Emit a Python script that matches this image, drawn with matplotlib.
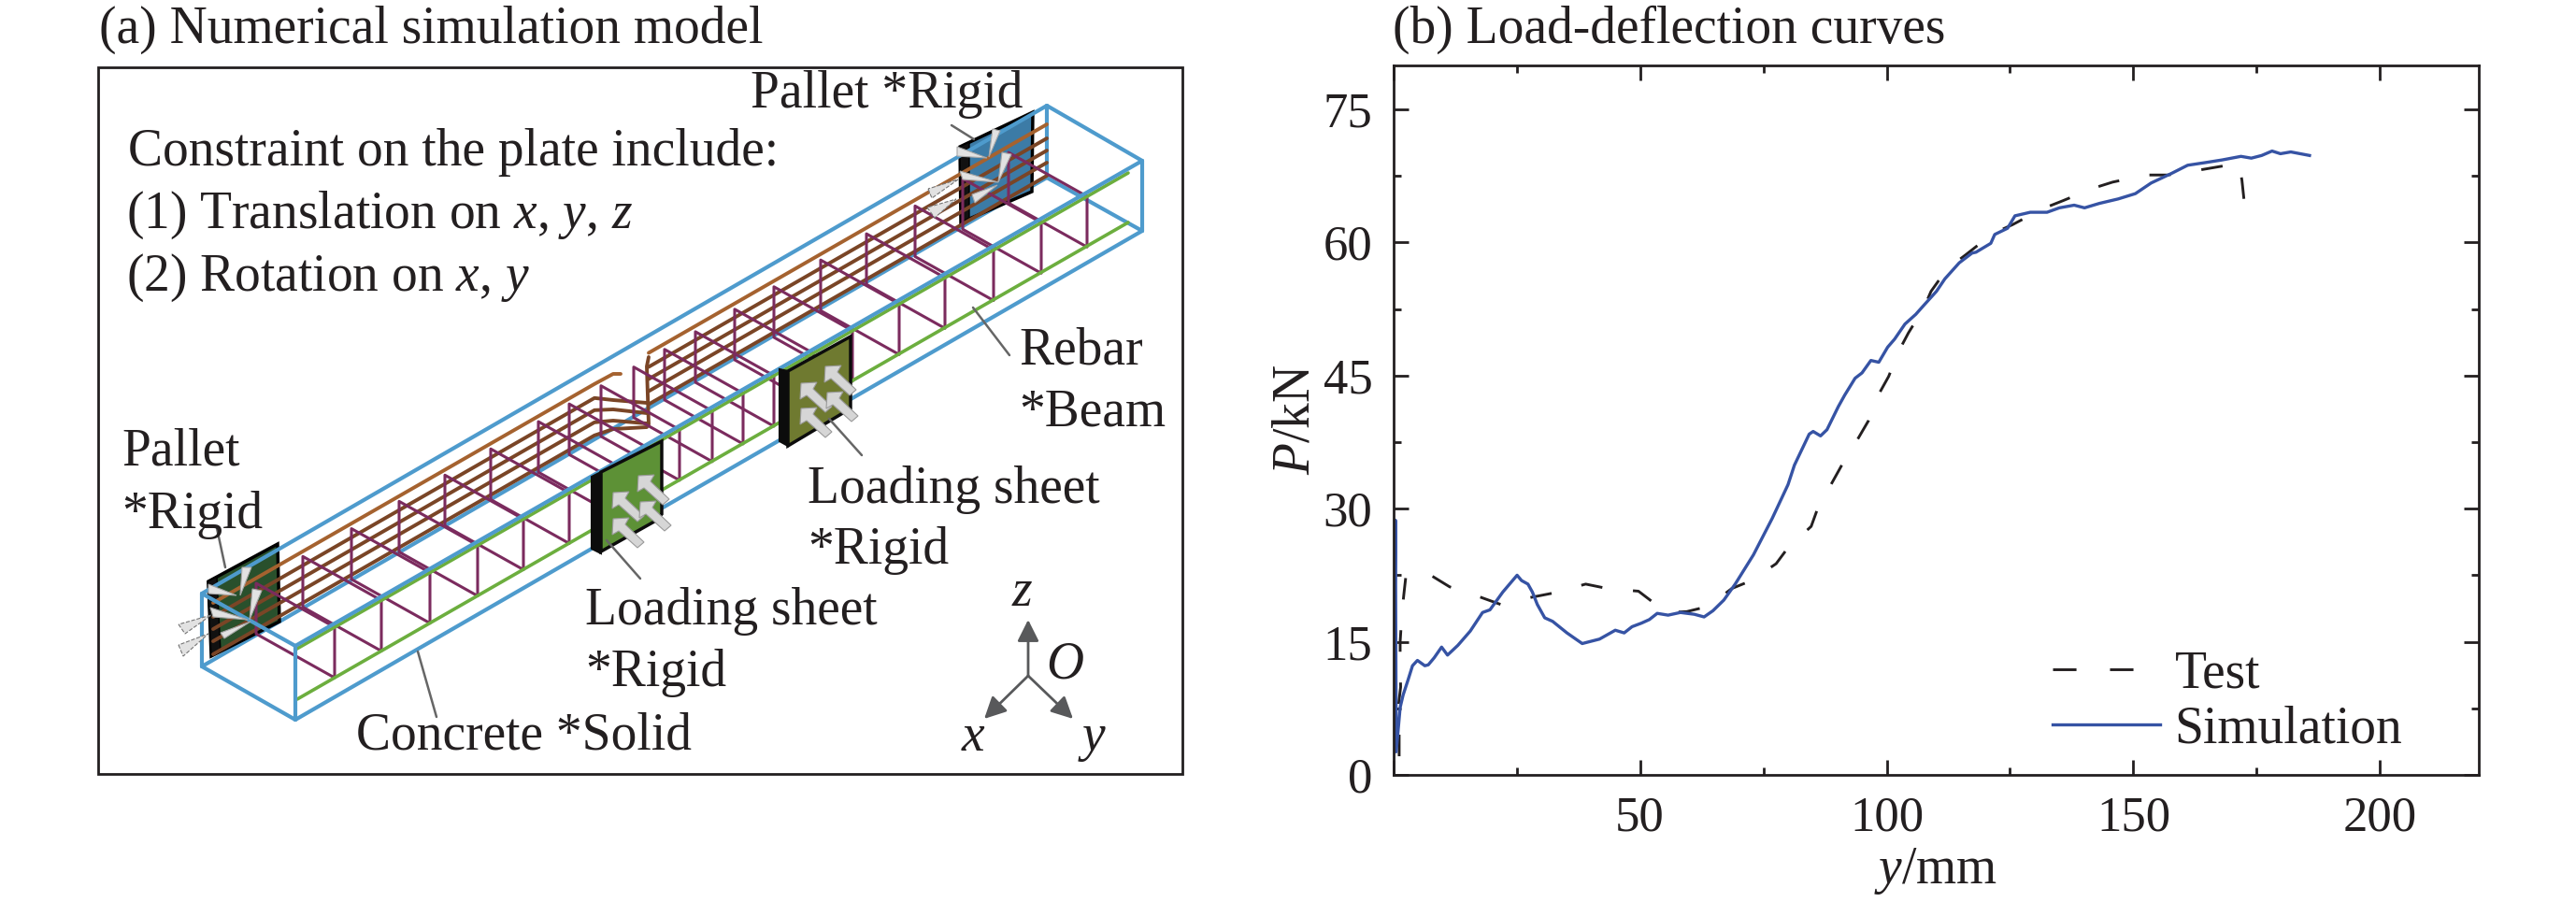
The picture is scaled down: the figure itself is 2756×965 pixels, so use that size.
import matplotlib
matplotlib.use('Agg')
import matplotlib.pyplot as plt
from matplotlib.lines import Line2D
from matplotlib.patches import Polygon, Rectangle

plt.rcParams['font.family'] = ['Liberation Serif']
plt.rcParams['mathtext.fontset'] = 'custom'
plt.rcParams['mathtext.rm'] = 'Liberation Serif'
plt.rcParams['mathtext.it'] = 'Liberation Serif:italic'

INK = '#231f20'
BLUE = '#4e9bcd'
PURPLE = '#7b2b5e'
GREEN = '#6cae3e'
BROWN = '#7a4526'
SIM_BLUE = '#3653a4'

# (b) load-deflection curves
sim_y_mm = [0, 0.44, 0.6, 1.4, 2.0, 3.0, 3.9, 4.9, 6.4, 7.1, 8.3, 9.8, 11, 13.1, 15.6, 18.1, 19.6, 22.2, 25.1,
            26, 27.3, 28.2, 29.2, 30.7, 32.3, 35.2, 37, 38.3, 41.8, 45, 46.8, 48.4, 50.3, 51.9, 53.5, 55.7,
            58.2, 61, 63, 64.8, 67, 69.3, 73, 76.8, 80, 81.3, 84.3, 85.1, 86.6, 87.9, 90.2, 91.5, 93.6, 95.0,
            96.8, 98.4, 100.2, 101.6, 103.7, 105.9, 107.5, 110.1, 111.8, 114.7, 117.3, 118.1, 121.1, 121.9,
            124.5, 126, 129.1, 132.5, 135, 138, 140.1, 143.1, 146.9, 150.4, 153.6, 157.8, 161, 164.6, 168,
            171.8, 173.9, 176, 178.1, 179.8, 181.9, 185.7]
sim_p_kn = [0, 28.7, 2.6, 7.6, 9, 10.7, 12.3, 12.9, 12.3, 12.4, 13.2, 14.4, 13.5, 14.6, 16.2, 18.3, 18.6, 20.6, 22.5,
            21.9, 21.5, 20.6, 19.2, 17.7, 17.3, 16, 15.3, 14.8, 15.3, 16.3, 16, 16.7, 17.1, 17.5, 18.2, 18,
            18.3, 18.1, 17.8, 18.5, 19.7, 21.5, 24.8, 28.9, 32.7, 34.9, 38.4, 38.7, 38.2, 38.9, 41.5, 42.8, 44.7, 45.3,
            46.7, 46.5, 48.2, 49.1, 50.8, 51.9, 52.9, 54.5, 55.9, 57.7, 58.8, 58.9, 59.9, 60.9,
            61.6, 63.0, 63.4, 63.4, 63.9, 64.2, 63.9, 64.4, 64.9, 65.5, 66.7, 67.8, 68.7, 69.0, 69.3,
            69.7, 69.5, 69.8, 70.3, 70.0, 70.2, 69.8]
test_y_mm = [1.2, 1.2, 1.0, 1.5, 1.4, 1.4, 1.8, 2.2, 2.6, 7.3, 11.4, 17.8, 21.8, 24.5, 27.9, 32.5, 39, 43.4, 49.7,
             53, 56, 59.5, 63.9, 68.6, 72.6, 77.6, 80, 84.7, 86, 89.1, 91, 94.2, 96.3, 98.5, 100.4, 102.5, 104.4,
             107.5, 109, 112.2, 116, 121.5, 125.5, 131.6, 135.7, 141.8, 145.8, 152.6, 157, 163.8, 168, 171.4, 172, 172.4]
test_p_kn = [2.1, 4.4, 7.6, 9.9, 13, 15, 18.5, 20.6, 22.6, 22.6, 21.2, 20, 19.2, 19.6, 20, 20.5, 21.5, 21, 20.7,
             19.3, 18.3, 18.4, 19, 21, 21.9, 23.8, 25.6, 28, 30, 33.1, 35, 37.9, 39.9, 43, 44.9, 47.8, 49.8,
             52.6, 54.5, 57, 58.6, 61, 62, 63.8, 64.7, 66.1, 66.8, 67.6, 67.6, 68.2, 68.6, 68.9, 67, 64.9]
x_ticks = [0, 50, 100, 150, 200]
x_tick_labels = ['', '50', '100', '150', '200']
x_minor = [25, 75, 125, 175]
y_ticks = [0, 15, 30, 45, 60, 75]
y_minor = [7.5, 22.5, 37.5, 52.5, 67.5]
series_names = ['Test', 'Simulation']

# (a) model outline, in picture pixels
concrete_back = [[(216, 713), (1120, 190)], [(1120, 190), (1222, 247)], [(1120, 113), (1120, 190)]]
concrete_top_back = [(216, 635), (1120, 113)]
concrete_front = [[(316, 691), (1222, 172)], [(316, 770), (1222, 247)], [(316, 691), (216, 635)], [(216, 635), (216, 713)],
                  [(216, 713), (316, 770)], [(316, 770), (316, 691)], [(1222, 172), (1222, 247)], [(1222, 172), (1120, 113)]]
green_bars = [[(316, 695), (1207, 185)], [(318, 748), (1207, 238)]]
stirrup_x = [358, 408, 460, 511, 560, 609, 660, 693, 727, 762, 795, 828, 870, 912, 962, 1011, 1063, 1114, 1163]
stirrup_back = (-84, -47)
brown_end_y = [133, 148, 161, 174, 188]
brown_flat_y = [(400, 400), (428, 431), (438, 442), (450, 453), (459, 457)]
pallet_near = [(223, 622), (297, 582), (299, 665), (226, 702)]
pallet_near_band = [(222, 622), (232, 617), (236, 697), (226, 702)]
pallet_far = [(1027, 157), (1105, 120), (1104, 205), (1028, 238)]
pallet_far_band = [(1027, 157), (1037, 152), (1037, 233), (1028, 238)]
sheet_one = [(643, 505), (708, 472), (708, 550), (700, 558), (643, 590)]
sheet_one_band = [(633, 510), (643, 505), (643, 592), (633, 587)]
sheet_two = [(843, 397), (910, 360), (910, 437), (843, 477)]
sheet_two_band = [(834, 395), (843, 397), (843, 477), (834, 472)]
sheet_one_tips = [(656, 527), (656, 555), (683, 509), (685, 537)]
sheet_two_tips = [(857, 410), (857, 437), (883, 392), (885, 420)]
arrow_shape = [(0, 0), (17, -1), (13, 6), (33, 25), (26, 31), (6, 13), (-1, 17)]
cones = [[(223, 625), (223, 635), (253, 637)], [(259, 607), (269, 607), (257, 637)], [(270, 630), (280, 632), (267, 663)],
         [(225, 650), (228, 660), (265, 663)], [(236, 677), (240, 683), (268, 665)],
         [(1024, 157), (1024, 167), (1056, 169)], [(1062, 138), (1070, 140), (1058, 168)], [(1072, 163), (1082, 165), (1068, 195)],
         [(1027, 183), (1030, 192), (1068, 195)], [(1040, 208), (1043, 217), (1067, 198)]]
dashed_cones = [[(191, 668), (198, 678), (226, 658)], [(191, 690), (196, 702), (223, 678)],
                [(993, 202), (997, 212), (1025, 192)], [(992, 222), (1000, 233), (1023, 213)]]
leaders = [[(232, 565), (241, 607)], [(1018, 134), (1042, 149)], [(447, 697), (467, 767)],
           [(649, 578), (685, 619)], [(887, 448), (922, 487)], [(1041, 329), (1080, 380)]]
labels = [('(a) Numerical simulation model', 106, 46), ('Pallet *Rigid', 803, 115),
          ('Constraint on the plate include:', 137, 177), ('(1) Translation on $x$, $y$, $z$', 135, 244),
          ('(2) Rotation on $x$, $y$', 135, 311), ('Rebar', 1090, 390), ('*Beam', 1090, 456),
          ('Pallet', 130, 498), ('*Rigid', 130, 565), ('Loading sheet', 864, 538), ('*Rigid', 864, 603),
          ('Loading sheet', 626, 668), ('*Rigid', 626, 734), ('Concrete *Solid', 381, 801),
          ('$z$', 1082, 648), ('$O$', 1119, 726), ('$x$', 1028, 803), ('$y$', 1153, 803),
          ('(b) Load-deflection curves', 1490, 46)]
triad_origin = (1100, 723)
triad_tips = [(1100, 663), (1053, 769), (1148, 769)]


def draw_lines(ax, segments, color, lw, z, **kw):
    for seg in segments:
        ax.plot([p[0] for p in seg], [p[1] for p in seg], color=color, lw=lw, zorder=z,
                solid_capstyle='round', **kw)


fig = plt.figure(figsize=(27.56, 9.65), dpi=100)
sketch = fig.add_axes([0, 0, 1, 1])
sketch.set_xlim(0, 2756)
sketch.set_ylim(965, 0)
sketch.axis('off')

sketch.add_patch(Rectangle((105, 72), 1160, 756, fill=False, ec=INK, lw=2, zorder=1))

draw_lines(sketch, concrete_back, BLUE, 3.0, 1.5)
sketch.add_patch(Polygon(pallet_near, fc='#29502c', ec='black', lw=2.5, zorder=2))
sketch.add_patch(Polygon(pallet_near_band, fc='#111111', ec='black', lw=1, zorder=2))
sketch.add_patch(Polygon(pallet_far, fc='#3c7ba6', ec='black', lw=2.5, zorder=2))
sketch.add_patch(Polygon(pallet_far_band, fc='#111111', ec='black', lw=1, zorder=2))
draw_lines(sketch, [concrete_top_back], BLUE, 3.0, 3)

# main bars, bent up in the middle of the span
slope = 0.574
for i, end_y in enumerate(brown_end_y):
    c = '#a5622f' if i == 0 else BROWN
    at = lambda x: end_y + (1120 - x) * slope
    left = [(228, at(228)), (636, at(636)), (656, brown_flat_y[i][0])]
    if i == 0:
        left.append((664, brown_flat_y[i][0]))
    else:
        left.append((692, brown_flat_y[i][1]))
    draw_lines(sketch, [left, [(694, at(694)), (1120, end_y)]], c, 2.8, 4)
draw_lines(sketch, [[(694, 382), (692, 392), (694, 454)]], BROWN, 2.8, 4)

for x in stirrup_x:
    top = 695 - (x - 316) * 0.5725
    bottom = 748 - (x - 318) * 0.5725
    dx, dy = stirrup_back
    ring = [(x, top), (x, bottom), (x + dx, bottom + dy), (x + dx, top + dy), (x, top)]
    draw_lines(sketch, [ring], PURPLE, 2.2, 5)

draw_lines(sketch, green_bars, GREEN, 2.6, 6)
draw_lines(sketch, concrete_front, BLUE, 3.0, 7)

for face, band, col in [(sheet_one, sheet_one_band, '#5d9136'), (sheet_two, sheet_two_band, '#6f7a30')]:
    sketch.add_patch(Polygon(face, fc=col, ec='#0c0c0c', lw=2.5, zorder=8))
    sketch.add_patch(Polygon(band, fc='#0c0c0c', ec='#0c0c0c', lw=1.5, zorder=8))
for tip in sheet_one_tips + sheet_two_tips:
    outline = [(tip[0] + dx, tip[1] + dy) for dx, dy in arrow_shape]
    sketch.add_patch(Polygon(outline, fc='#d6d6d6', ec='#9a9a9a', lw=0.8, zorder=9))
for tri in cones:
    sketch.add_patch(Polygon(tri, fc='#e2e2e2', ec='#a8a8a8', lw=0.8, zorder=10))
for tri in dashed_cones:
    sketch.add_patch(Polygon(tri, fc='#e2e2e2', ec='#777777', lw=0.8, ls='--', zorder=10))
draw_lines(sketch, leaders, '#666666', 1.8, 11)
for tip in triad_tips:
    sketch.annotate('', xy=tip, xytext=triad_origin, zorder=11,
                    arrowprops=dict(arrowstyle='-|>,head_length=0.7,head_width=0.35', mutation_scale=20,
                                    color='#58595b', lw=2, shrinkA=0, shrinkB=0))
for txt, x, y in labels:
    sketch.text(x, y, txt, fontsize=40, color=INK, ha='left', va='baseline', zorder=12)

ax = fig.add_axes([1490.6 / 2756, (965 - 829) / 965, (2652 - 1490.6) / 2756, (829 - 69.5) / 965])
ax.patch.set_alpha(0)
ax.plot(test_y_mm, test_p_kn, color=INK, lw=2.1, ls=(0, (7.9, 11.3)))
ax.plot(sim_y_mm, sim_p_kn, color=SIM_BLUE, lw=2.4)
ax.set_xlim(0, 220)
ax.set_ylim(0, 80)
ax.set_xticks(x_ticks, x_tick_labels)
ax.set_xticks(x_minor, minor=True)
ax.set_yticks(y_ticks)
ax.set_yticks(y_minor, minor=True)
ax.tick_params(which='major', direction='in', top=True, right=True, length=11.5, width=2, labelsize=38,
               labelcolor=INK, color=INK, pad=16)
ax.tick_params(which='minor', direction='in', top=True, right=True, length=6, width=2, color=INK)
for s in ax.spines.values():
    s.set_linewidth(2)
    s.set_color(INK)
ax.set_xlabel('$y$/mm', fontsize=40, color=INK, labelpad=4)
ax.set_ylabel('$P$/kN', fontsize=40, color=INK, labelpad=2)
# legend key has slightly longer dashes than the curve, only two fit in it
handles = [Line2D([], [], color=INK, lw=2.1, ls=(0, (8.6, 12.3))), Line2D([], [], color=SIM_BLUE, lw=2.4)]
ax.legend(handles, series_names, loc='lower left', bbox_to_anchor=(0.607, 0.03), frameon=False, fontsize=40,
          labelcolor=INK, handlelength=2.07, handletextpad=0.29, labelspacing=0.12, borderpad=0, borderaxespad=0)

fig.savefig('out.png', dpi=100)
